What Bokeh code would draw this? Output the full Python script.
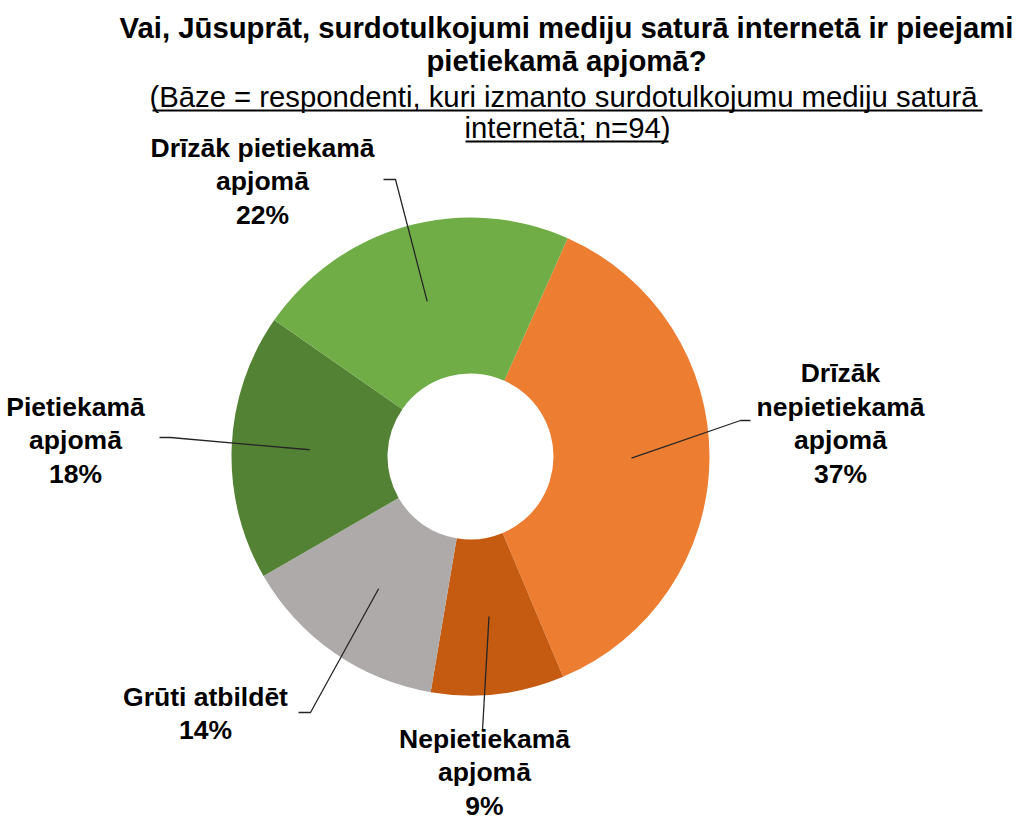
import math
from bokeh.plotting import figure
from bokeh.models import Range1d, ColumnDataSource
from bokeh.core.properties import value
from bokeh.embed import file_html
from bokeh.resources import INLINE

# Survey answers, listed clockwise starting from the first slice
categories = ["Drīzāk\nnepietiekamā\napjomā", "Nepietiekamā\napjomā", "Grūti atbildēt",
              "Pietiekamā\napjomā", "Drīzāk pietiekamā\napjomā"]
shares = [37, 9, 14, 18, 22]
colors = ["#ED7D31", "#C55A11", "#AEAAAA", "#548235", "#70AD47"]

title_lines = ["Vai, Jūsuprāt, surdotulkojumi mediju saturā internetā ir pieejami",
               "pietiekamā apjomā?"]
subtitle_lines = ["(Bāze = respondenti, kuri izmanto surdotulkojumu  mediju saturā",
                  "internetā; n=94)"]

W, H = 1019, 826
FONT = "Liberation Sans"

def Y(py):
    return H - py

cx, cy = 470, Y(456)
r_in, r_out = 83, 239
first_angle = 24  # degrees clockwise from 12 o'clock

# wedge angles
total = sum(shares)
starts, ends, mids = [], [], []
acc = first_angle
for s in shares:
    a0 = acc
    a1 = acc + 360.0 * s / total
    starts.append(math.radians(90 - a0))
    ends.append(math.radians(90 - a1))
    mids.append(math.radians(90 - (a0 + a1) / 2))
    acc = a1

p = figure(width=W, height=H, x_range=Range1d(0, W), y_range=Range1d(0, H),
           output_backend="svg", toolbar_location=None, min_border=0)
p.axis.visible = False
p.grid.visible = False
p.outline_line_color = None
p.background_fill_color = "white"

src = ColumnDataSource(dict(x=[cx] * len(shares), y=[cy] * len(shares),
                            start=starts, end=ends, color=colors))
p.annular_wedge(x="x", y="y", inner_radius=r_in, outer_radius=r_out,
                start_angle="start", end_angle="end", direction="clock",
                fill_color="color", line_color=None, source=src)

# label block centres and leader elbows
label_pos = [(840, 423), (484, 772), (205, 713), (75, 440), (262, 181)]
elbows = [[(750, 420), (740, 420)],
          [(482, 730)],
          [(298, 712), (310, 712)],
          [(159, 437), (170, 437)],
          [(383, 179), (395, 179)]]

r_mid = (r_in + r_out) / 2
for i, s in enumerate(shares):
    px = cx + r_mid * math.cos(mids[i])
    py = cy + r_mid * math.sin(mids[i])
    xs = [e[0] for e in elbows[i]] + [px]
    ys = [Y(e[1]) for e in elbows[i]] + [py]
    p.line(xs, ys, line_color="#262626", line_width=1.3)

label_text = [f"{c}\n{s}%" for c, s in zip(categories, shares)]
p.text(x=[lp[0] for lp in label_pos], y=[Y(lp[1]) for lp in label_pos], text=label_text,
       text_align="center", text_baseline="middle", text_font=value(FONT),
       text_font_style="bold", text_font_size="26.5px", text_line_height=1.12,
       text_color="#000000")

# title
p.text(x=[566, 566], y=[Y(27), Y(60)], text=title_lines, text_align="center",
       text_baseline="middle", text_font=value(FONT), text_font_style="bold",
       text_font_size="29.3px", text_color="#000000")

# subtitle, underlined
p.text(x=[567, 567], y=[Y(96), Y(127)], text=subtitle_lines, text_align="center",
       text_baseline="middle", text_font=value(FONT), text_font_style="normal",
       text_font_size="29.3px", text_color="#000000")
p.segment(x0=[152, 465], y0=[Y(110), Y(141)], x1=[982, 668], y1=[Y(110), Y(141)],
          line_color="#000000", line_width=2)

open("out.html", "w").write(file_html(p, INLINE))
